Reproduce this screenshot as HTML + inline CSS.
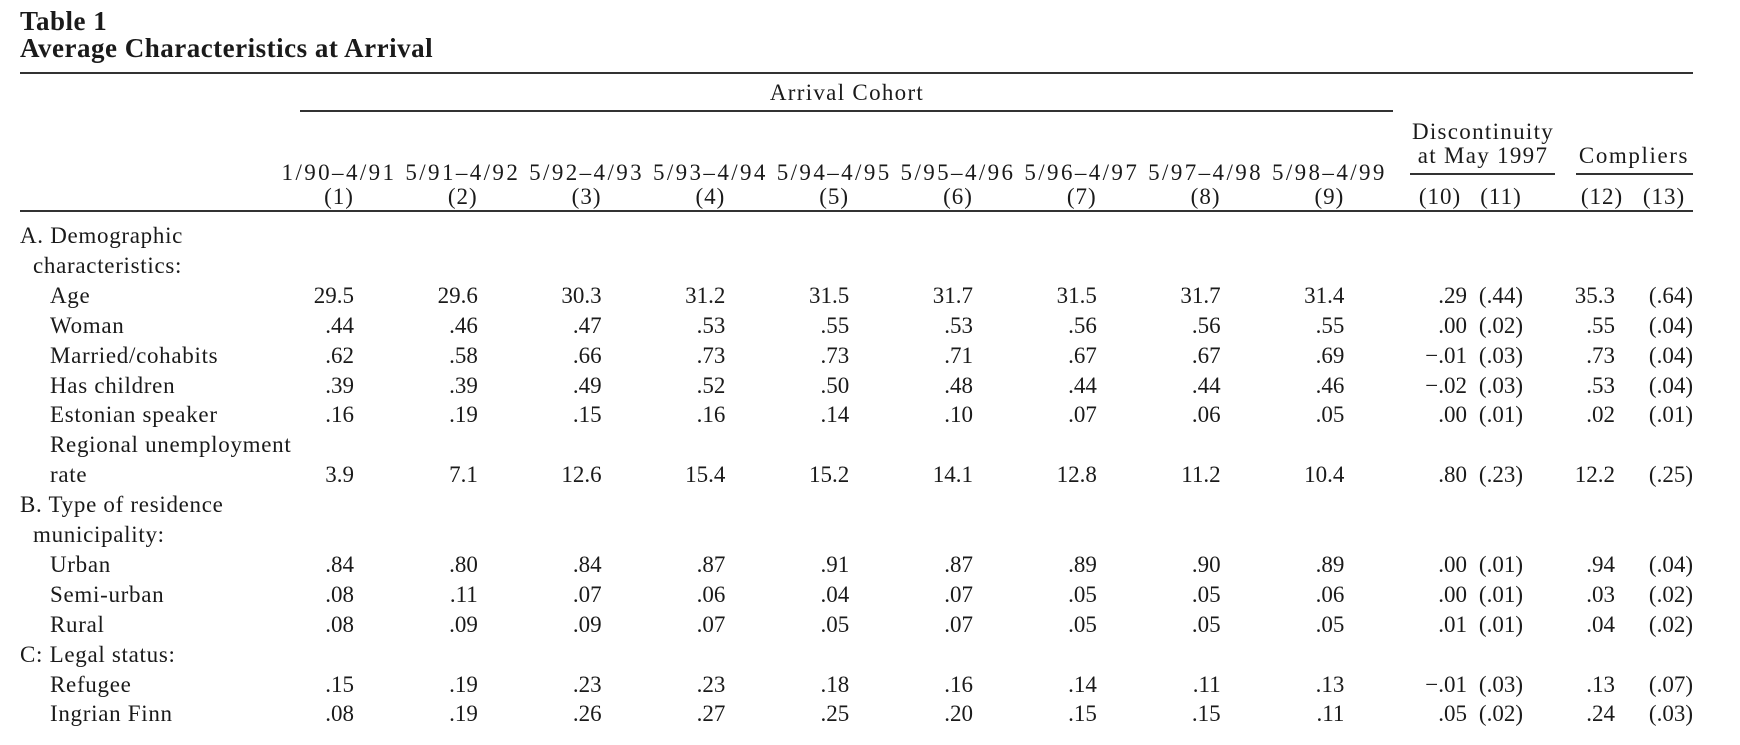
<!DOCTYPE html>
<html><head><meta charset="utf-8"><style>
body{margin:0;background:#fff;}
#t{position:relative;width:1740px;height:745px;overflow:hidden;font-family:"Liberation Serif",serif;color:#1a1a1a;font-size:23px;}
.a{position:absolute;white-space:nowrap;line-height:1;}
.r{position:absolute;background:#333;height:2px;}
.h{font-weight:bold;font-size:27px;letter-spacing:0.5px;}
.ls{letter-spacing:1.3px;}
</style></head><body>
<div id="t">
<div class="a h" style="left:20px;top:8px">Table 1</div>
<div class="a h" style="left:20px;top:35px">Average Characteristics at Arrival</div>
<div class="r" style="left:20px;top:72px;width:1673px"></div>
<div class="a ls" style="left:847px;top:81px;transform:translateX(-50%)">Arrival Cohort</div>
<div class="r" style="left:300px;top:110px;width:1093px"></div>
<div class="a ls" style="left:1483px;top:120px;transform:translateX(-50%)">Discontinuity</div>
<div class="a ls" style="left:1483px;top:144px;transform:translateX(-50%)">at May 1997</div>
<div class="r" style="left:1410px;top:173px;width:145px"></div>
<div class="a ls" style="left:1634px;top:144px;transform:translateX(-50%);letter-spacing:1.6px">Compliers</div>
<div class="r" style="left:1576px;top:173px;width:117px"></div>
<div class="r" style="left:20px;top:210px;width:1673px"></div>
</div>
<script>
const cohorts=["1/90–4/91","5/91–4/92","5/92–4/93","5/93–4/94","5/94–4/95","5/95–4/96","5/96–4/97","5/97–4/98","5/98–4/99"];
const colNums=["(1)","(2)","(3)","(4)","(5)","(6)","(7)","(8)","(9)","(10)","(11)","(12)","(13)"];
const rowLabels=[["A. Demographic",0],["characteristics:",1],["Age",2],["Woman",2],["Married/cohabits",2],["Has children",2],["Estonian speaker",2],["Regional unemployment",2],["rate",2],["B. Type of residence",0],["municipality:",1],["Urban",2],["Semi-urban",2],["Rural",2],["C: Legal status:",0],["Refugee",2],["Ingrian Finn",2]];
const rowValues=[null,null,
["29.5","29.6","30.3","31.2","31.5","31.7","31.5","31.7","31.4",".29","(.44)","35.3","(.64)"],
[".44",".46",".47",".53",".55",".53",".56",".56",".55",".00","(.02)",".55","(.04)"],
[".62",".58",".66",".73",".73",".71",".67",".67",".69","−.01","(.03)",".73","(.04)"],
[".39",".39",".49",".52",".50",".48",".44",".44",".46","−.02","(.03)",".53","(.04)"],
[".16",".19",".15",".16",".14",".10",".07",".06",".05",".00","(.01)",".02","(.01)"],
null,
["3.9","7.1","12.6","15.4","15.2","14.1","12.8","11.2","10.4",".80","(.23)","12.2","(.25)"],
null,null,
[".84",".80",".84",".87",".91",".87",".89",".90",".89",".00","(.01)",".94","(.04)"],
[".08",".11",".07",".06",".04",".07",".05",".05",".06",".00","(.01)",".03","(.02)"],
[".08",".09",".09",".07",".05",".07",".05",".05",".05",".01","(.01)",".04","(.02)"],
null,
[".15",".19",".23",".23",".18",".16",".14",".11",".13","−.01","(.03)",".13","(.07)"],
[".08",".19",".26",".27",".25",".20",".15",".15",".11",".05","(.02)",".24","(.03)"]];
const t=document.getElementById('t');
function colCenter(i){return i<9?339+i*123.8:[1440,1501,1602,1664][i-9];}
function colRight(i){return i<9?colCenter(i)+15:[1467,1523,1615,1693][i-9];}
function rowY(i){return 235+i*29.9;}
function add(txt,x,y,align,ls){const d=document.createElement('div');d.className='a';d.textContent=txt;d.style.top=(y-11)+'px';
if(ls)d.style.letterSpacing=ls+'px';
if(align==='c'){d.style.left=x+'px';d.style.transform='translateX(-50%)';}else if(align==='r'){d.style.right=(1740-x)+'px';}else d.style.left=x+'px';
t.appendChild(d);return d;}
cohorts.forEach((c,i)=>{const d=add(c,colCenter(i),172,'c',2.4);

});
colNums.forEach((c,i)=>{const d=add(c,colCenter(i),196,'c',1);

});
rowLabels.forEach((r,i)=>{const d=add(r[0],[20,33,50][r[1]],rowY(i),'l',0.7);


const v=rowValues[i];if(!v)return;
v.forEach((val,j)=>{const e=add(val,colRight(j),rowY(i),'r',0);

});});
</script>
</body></html>
